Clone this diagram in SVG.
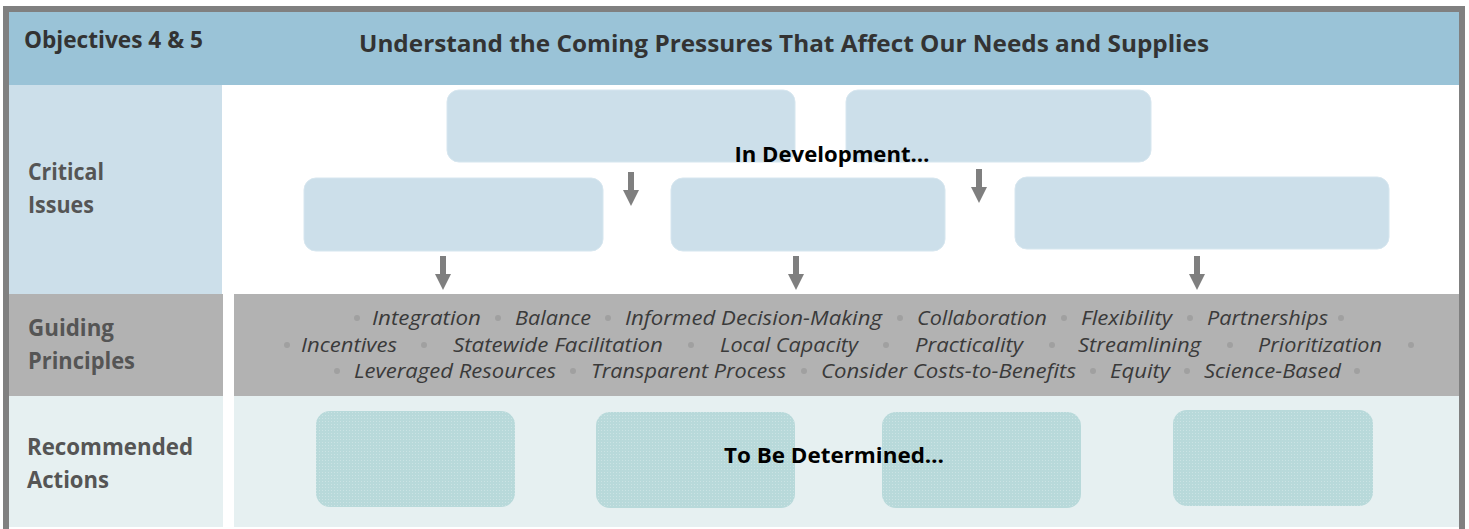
<svg xmlns="http://www.w3.org/2000/svg" width="1469" height="529" viewBox="0 0 1469 529">
<style>
.lbl{font-family:"Open Sans","Liberation Sans",sans-serif;font-weight:bold;font-size:23px;fill:#555555}
.hdr{font-family:"Open Sans","Liberation Sans",sans-serif;font-weight:bold;font-size:22.5px;fill:#333333}
.gp{font-family:"Open Sans","Liberation Sans",sans-serif;font-style:italic;font-size:20.5px;fill:#3a3a3a}
.ci{fill:#CCDFEA;stroke:#D6E6EF;stroke-width:1}
.ra{fill:url(#dots)}
.big{font-family:"Open Sans","Liberation Sans",sans-serif;font-weight:bold;font-size:21px;fill:#000000}
.arr{fill:#7F7F7F}
.bul{fill:#A0A0A0}
</style>
<defs>
<pattern id="dots" width="3" height="3" patternUnits="userSpaceOnUse">
<rect width="3" height="3" fill="#B8D9DA"/>
<rect x="1" y="1" width="1" height="1" fill="#CBE3E4"/>
</pattern>
</defs>
<rect x="0" y="0" width="1469" height="529" fill="#FFFFFF"/>
<!-- outer frame -->
<rect x="3" y="6" width="1462" height="540" fill="#808080"/>
<rect x="9" y="12" width="1450" height="530" fill="#FFFFFF"/>
<!-- header -->
<g id="header">
<rect x="9" y="12" width="1450" height="73" fill="#9AC3D7"/>
<text class="hdr" x="24" y="48" textLength="179" lengthAdjust="spacingAndGlyphs">Objectives 4 &amp; 5</text>
<text class="hdr" x="359" y="52" textLength="850" lengthAdjust="spacingAndGlyphs">Understand the Coming Pressures That Affect Our Needs and Supplies</text>
</g>
<!-- row labels -->
<g id="row-critical">
<rect x="9" y="85" width="213" height="209" fill="#CCDFEA"/>
<text class="lbl" x="28" y="180" textLength="76" lengthAdjust="spacingAndGlyphs">Critical</text>
<text class="lbl" x="28" y="213" textLength="66" lengthAdjust="spacingAndGlyphs">Issues</text>
</g>
<g id="row-guiding">
<rect x="9" y="294" width="214" height="102" fill="#B2B2B2"/>
<rect x="234" y="294" width="1225" height="102" fill="#B2B2B2"/>
<text class="lbl" x="28" y="336" textLength="86" lengthAdjust="spacingAndGlyphs">Guiding</text>
<text class="lbl" x="28" y="369" textLength="107" lengthAdjust="spacingAndGlyphs">Principles</text>
</g>
<g id="row-actions">
<rect x="9" y="396" width="214" height="131" fill="#E6F0F1"/>
<rect x="234" y="396" width="1225" height="131" fill="#E6F0F1"/>
<text class="lbl" x="27" y="455" textLength="166" lengthAdjust="spacingAndGlyphs">Recommended</text>
<text class="lbl" x="27" y="488" textLength="82" lengthAdjust="spacingAndGlyphs">Actions</text>
</g>
<!-- critical issue boxes -->
<g id="ci-1"><rect class="ci" x="447" y="90" width="348" height="72" rx="12"/></g>
<g id="ci-2"><rect class="ci" x="846" y="90" width="305" height="72" rx="12"/></g>
<g id="ci-3"><rect class="ci" x="304" y="178" width="299" height="73" rx="12"/></g>
<g id="ci-4"><rect class="ci" x="671" y="178" width="274" height="73" rx="12"/></g>
<g id="ci-5"><rect class="ci" x="1015" y="177" width="374" height="72" rx="12"/></g>
<g id="in-dev"><text class="big" x="832" y="162" text-anchor="middle" textLength="195" lengthAdjust="spacingAndGlyphs">In Development…</text></g>
<!-- connectors -->
<g id="connectors">
<path class="arr" d="M628,172 H634 V190 H639 L631,206 L623,190 H628 Z"/>
<path class="arr" d="M976,169 H982 V187 H987 L979,203 L971,187 H976 Z"/>
<path class="arr" d="M440,256 H446 V274 H451 L443,290 L435,274 H440 Z"/>
<path class="arr" d="M793,256 H799 V274 H804 L796,290 L788,274 H793 Z"/>
<path class="arr" d="M1194,256 H1200 V274 H1205 L1197,290 L1189,274 H1194 Z"/>
</g>
<!-- guiding principles -->
<g id="principles">
<circle class="bul" cx="357" cy="318" r="3"/>
<text class="gp" x="372" y="325" textLength="109" lengthAdjust="spacingAndGlyphs">Integration</text>
<circle class="bul" cx="498" cy="318" r="3"/>
<text class="gp" x="515" y="325" textLength="76" lengthAdjust="spacingAndGlyphs">Balance</text>
<circle class="bul" cx="608" cy="318" r="3"/>
<text class="gp" x="625" y="325" textLength="257" lengthAdjust="spacingAndGlyphs">Informed Decision-Making</text>
<circle class="bul" cx="900" cy="318" r="3"/>
<text class="gp" x="917" y="325" textLength="130" lengthAdjust="spacingAndGlyphs">Collaboration</text>
<circle class="bul" cx="1064" cy="318" r="3"/>
<text class="gp" x="1081" y="325" textLength="91" lengthAdjust="spacingAndGlyphs">Flexibility</text>
<circle class="bul" cx="1190" cy="318" r="3"/>
<text class="gp" x="1207" y="325" textLength="121" lengthAdjust="spacingAndGlyphs">Partnerships</text>
<circle class="bul" cx="1341" cy="318" r="3"/>

<circle class="bul" cx="287" cy="345" r="3"/>
<text class="gp" x="301" y="352" textLength="96" lengthAdjust="spacingAndGlyphs">Incentives</text>
<circle class="bul" cx="424" cy="345" r="3"/>
<text class="gp" x="453" y="352" textLength="210" lengthAdjust="spacingAndGlyphs">Statewide Facilitation</text>
<circle class="bul" cx="691" cy="345" r="3"/>
<text class="gp" x="720" y="352" textLength="138" lengthAdjust="spacingAndGlyphs">Local Capacity</text>
<circle class="bul" cx="886" cy="345" r="3"/>
<text class="gp" x="915" y="352" textLength="108" lengthAdjust="spacingAndGlyphs">Practicality</text>
<circle class="bul" cx="1052" cy="345" r="3"/>
<text class="gp" x="1078" y="352" textLength="123" lengthAdjust="spacingAndGlyphs">Streamlining</text>
<circle class="bul" cx="1230" cy="345" r="3"/>
<text class="gp" x="1258" y="352" textLength="124" lengthAdjust="spacingAndGlyphs">Prioritization</text>
<circle class="bul" cx="1411" cy="345" r="3"/>

<circle class="bul" cx="337" cy="371" r="3"/>
<text class="gp" x="354" y="378" textLength="202" lengthAdjust="spacingAndGlyphs">Leveraged Resources</text>
<circle class="bul" cx="573" cy="371" r="3"/>
<text class="gp" x="591" y="378" textLength="195" lengthAdjust="spacingAndGlyphs">Transparent Process</text>
<circle class="bul" cx="804" cy="371" r="3"/>
<text class="gp" x="821" y="378" textLength="255" lengthAdjust="spacingAndGlyphs">Consider Costs-to-Benefits</text>
<circle class="bul" cx="1093" cy="371" r="3"/>
<text class="gp" x="1110" y="378" textLength="60" lengthAdjust="spacingAndGlyphs">Equity</text>
<circle class="bul" cx="1187" cy="371" r="3"/>
<text class="gp" x="1204" y="378" textLength="137" lengthAdjust="spacingAndGlyphs">Science-Based</text>
<circle class="bul" cx="1357" cy="371" r="3"/>
</g>
<!-- recommended action boxes -->
<g id="ra-1"><rect class="ra" x="316" y="411" width="199" height="96" rx="14"/></g>
<g id="ra-2"><rect class="ra" x="596" y="412" width="199" height="96" rx="14"/></g>
<g id="ra-3"><rect class="ra" x="882" y="412" width="199" height="96" rx="14"/></g>
<g id="ra-4"><rect class="ra" x="1173" y="410" width="200" height="96" rx="14"/></g>
<g id="tbd"><text class="big" x="834" y="463" text-anchor="middle" textLength="220" lengthAdjust="spacingAndGlyphs">To Be Determined…</text></g>
</svg>
